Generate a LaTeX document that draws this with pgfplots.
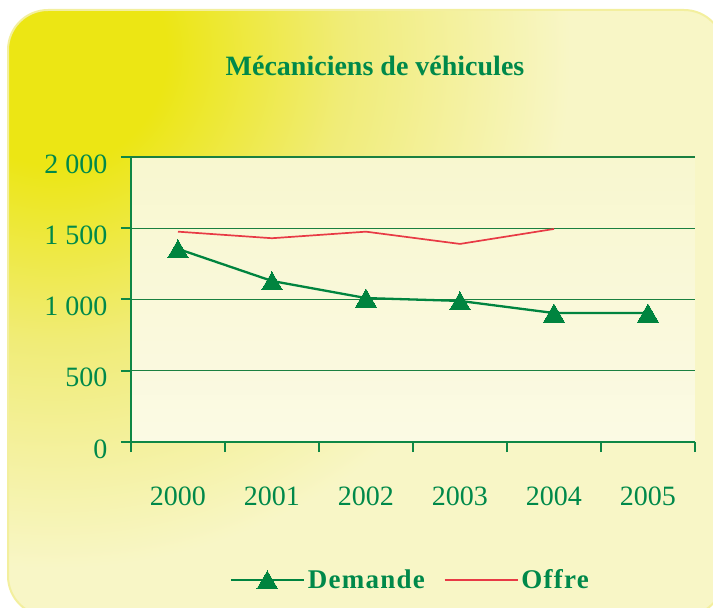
\documentclass[border=0pt]{standalone}
\usepackage{fontspec}
\setmainfont{Liberation Serif}
\usepackage{pgfplots}
\pgfplotsset{compat=1.18}
\definecolor{ybright}{HTML}{ECE614}
\definecolor{ymid}{HTML}{F0EC78}
\definecolor{ypale}{HTML}{F8F6C6}
\definecolor{yborder}{HTML}{F3EF9E}
\definecolor{txtgreen}{HTML}{00894A}
\definecolor{axgreen}{HTML}{0E8745}
\definecolor{gridgreen}{HTML}{1A8040}
\definecolor{mkgreen}{HTML}{00843F}
\definecolor{offred}{HTML}{E83A45}
\definecolor{plottop}{HTML}{F8F7CF}
\definecolor{plotbot}{HTML}{FBFAE4}
\pgfdeclareradialshading{bgshade}{\pgfpoint{0bp}{0bp}}{color(0bp)=(ybright); color(5bp)=(ybright); color(13bp)=(ymid); color(23bp)=(ypale); color(25bp)=(ypale); color(50bp)=(ypale)}
\begin{document}
\begin{tikzpicture}[x=1pt,y=1pt]
\path[use as bounding box] (0,0) rectangle (713,608);
\begin{scope}
\clip (0,0) rectangle (713,608);
\fill[ypale, rounded corners=40pt] (8,598) rectangle (724,-8);
\begin{scope}
\clip[rounded corners=40pt] (8,598) rectangle (724,-8);
\shade[shading=bgshade] (55,555) circle (560);
\end{scope}
\draw[yborder, line width=2pt, rounded corners=40pt] (8,598) rectangle (724,-8);
\end{scope}
\node[anchor=base, text=txtgreen, font=\fontsize{28pt}{32pt}\selectfont\bfseries] at (375,532) {Mécaniciens de véhicules};
\begin{axis}[
  at={(131pt,166pt)}, anchor=south west,
  scale only axis, width=564pt, height=285pt,
  xmin=-0.5, xmax=5.5, ymin=0, ymax=2000,
  axis x line*=bottom, axis y line*=left,
  axis line style={draw=axgreen, line width=2pt},
  axis background/.style={top color=plottop, bottom color=plotbot},
  tick align=outside,
  xtick={0,1,2,3,4,5},
  xticklabels={2000,2001,2002,2003,2004,2005},
  minor xtick={-0.5,0.5,1.5,2.5,3.5,4.5,5.5},
  major x tick style={draw=none},
  minor tick length=10pt, major tick length=10pt,
  every tick/.style={draw=axgreen, line width=2pt},
  ytick={0,500,1000,1500,2000},
  yticklabels={0,500,1 000,1 500,2 000},
  ymajorgrids,
  grid style={draw=gridgreen, line width=1.3pt},
  tick label style={text=txtgreen, font=\fontsize{28pt}{32pt}\selectfont},
  xticklabel style={yshift=-31pt},
  yticklabel style={yshift=-7pt, xshift=-10pt},
  legend style={at={(0.496,-0.484)}, anchor=center, draw=none, fill=none,
    legend columns=2, font=\fontsize{27pt}{30pt}\selectfont\bfseries\addfontfeature{LetterSpace=4.5},
    text=txtgreen, nodes={inner sep=3pt},
    /tikz/every even column/.append style={column sep=16pt}},
  legend image code/.code={\draw[mark repeat=2,mark phase=2,#1] plot coordinates {(0pt,0pt) (36.5pt,0pt) (73pt,0pt)};},
  clip=false,
]
\addplot[draw=mkgreen, line width=2.3pt, mark=triangle*, mark size=12pt,
  mark options={fill=mkgreen, draw=mkgreen, line width=0pt, yshift=-3pt}]
  coordinates {(0,1355) (1,1130) (2,1010) (3,990) (4,905) (5,905)};
\addlegendentry{Demande}
\addplot[draw=offred, line width=1.7pt, mark=none]
  coordinates {(0,1476) (1,1430) (2,1476) (3,1390) (4,1495)};
\addlegendentry{Offre}
\end{axis}
\end{tikzpicture}
\end{document}
